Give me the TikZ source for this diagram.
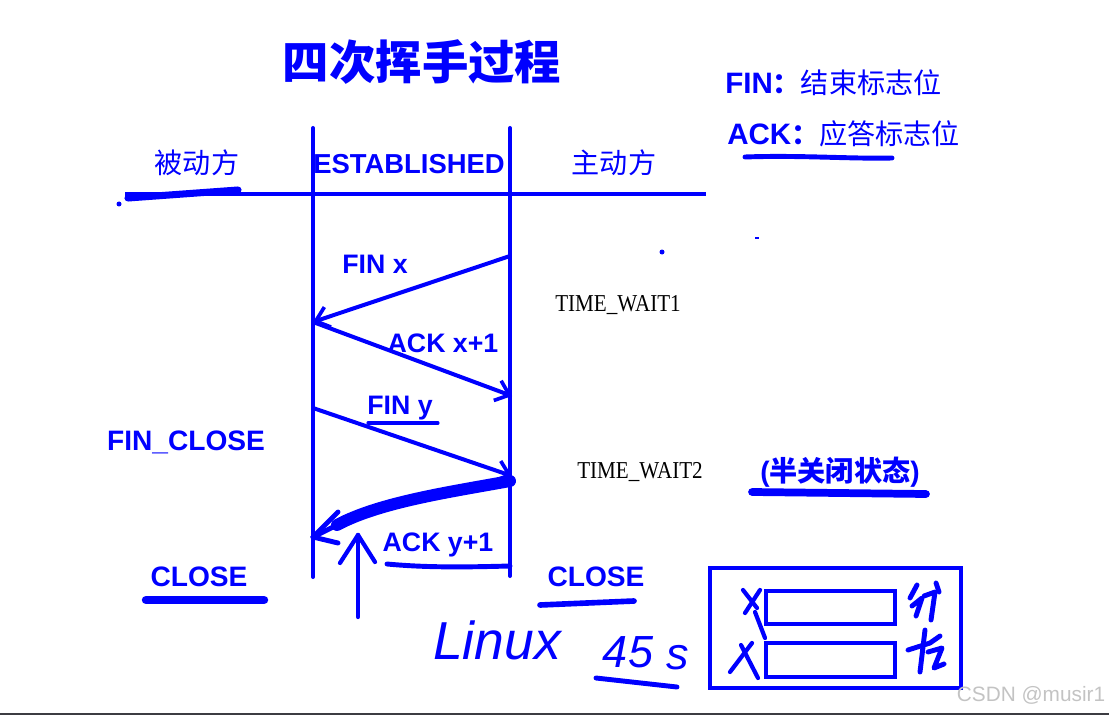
\documentclass[tikz,border=0pt]{standalone}
\usepackage{fontspec}
\setmainfont{Liberation Sans}
\newfontfamily\cjk{Noto Sans CJK SC}
\newfontfamily\typew{Liberation Serif}
\usetikzlibrary{arrows.meta}
\definecolor{penBlue}{RGB}{0,0,255}
\definecolor{markGray}{RGB}{195,195,195}
\definecolor{edgeGray}{RGB}{60,60,66}
\tikzset{
	lifeline/.style={penBlue,line width=2.85pt},
	msg/.style={penBlue,line width=2.85pt,-{Straight Barb[length=9pt,width=15pt,line width=2.6pt]}},
	pen/.style={penBlue,line width=#1,line cap=round,line join=round},
	lbl/.style={text=penBlue,font=\bfseries\fontsize{19}{19}\selectfont,inner sep=0pt},
	state/.style={text=penBlue,font=\bfseries\fontsize{20}{20}\selectfont,inner sep=0pt},
	side/.style={text=penBlue,font=\cjk\fontsize{20}{20}\selectfont,inner sep=0pt},
	wait/.style={text=black,font=\typew\fontsize{15}{15}\selectfont,inner sep=0pt},
	hand/.style={text=penBlue,font=\itshape,inner sep=0pt}
}

\begin{document}
\begin{tikzpicture}[x=0.025cm,y=-0.025cm]
		%\draw[help lines,step=100] (0,0) grid (1109,715);
		\useasboundingbox (0,0) rectangle (1109,715);

		\node[text=penBlue,font=\cjk\bfseries\fontsize{33}{33}\selectfont,inner sep=0pt] (title) at (422,62) {四次挥手过程};
		\node[anchor=west,text=penBlue,inner sep=0pt,font=\bfseries\fontsize{21}{21}\selectfont] (legFin) at (725,83) {FIN{\cjk\fontsize{20}{20}\selectfont ：\mdseries 结束标志位}};
		\node[anchor=west,text=penBlue,inner sep=0pt,font=\bfseries\fontsize{21}{21}\selectfont] (legAck) at (727,134) {ACK{\cjk\fontsize{20}{20}\selectfont ：\mdseries 应答标志位}};
		\draw[pen=3.5pt] (745,157) .. controls (800,155) and (850,159) .. (892,158);

		% header
		\node[side] (passive) at (197,163) {被动方};
		\node[side] (active) at (614,163) {主动方};
		\node[state,font=\bfseries\fontsize{19.5}{19.5}\selectfont] (estab) at (409,164) {ESTABLISHED};
		\coordinate (hL) at (125,194);
		\coordinate (hR) at (706,194);
		\draw[lifeline] (hL) -- (hR);
		\draw[pen=5pt] (128,198) -- (238,190);
		\fill[penBlue] (119,204) circle (2.5);

		% lifelines
		\coordinate (pTop) at (313,128);
		\coordinate (pBot) at (313,577);
		\coordinate (aTop) at (510,128);
		\coordinate (aBot) at (510,576);
		\draw[lifeline,line cap=round] (pTop) -- (pBot);
		\draw[lifeline,line cap=round] (aTop) -- (aBot);

		\coordinate (a1) at (510,256);
		\coordinate (p1) at (313,322);
		\coordinate (a2) at (512,396);
		\coordinate (p2) at (313,408);
		\coordinate (a3) at (512,476);
		\coordinate (a4) at (510,481);
		\coordinate (p4) at (313,537);

		\draw[msg] (a1) -- (p1);
		\draw[msg] (p1) -- (a2);
		\draw[msg] (p2) -- (a3);
		\node[lbl] (finx) at (375,264) {FIN x};
		\node[lbl] (ackx) at (443,343) {ACK x+1};
		\node[lbl] (finy) at (400,408) {FIN y};
		\draw[pen=2.2pt] (368,423) -- (438,423);

		% hand drawn last ack
		\draw[pen=8.5pt] (a4) .. controls (450,492) and (380,502) .. (337,525);
		\draw[pen=3.5pt] (337,525) -- (p4);
		\draw[pen=3.5pt] (p4) -- (338,512);
		\draw[pen=3.5pt] (p4) -- (338,543);
		\node[lbl] (acky) at (438,545) {ACK y+1};
		\draw[pen=3.5pt] (387,564) .. controls (430,568) and (470,567) .. (510,566);
		\coordinate (upBot) at (358,617);
		\coordinate (upTop) at (358,535);
		\draw[pen=3pt] (upBot) -- (upTop);
		\draw[pen=3pt] (upTop) -- (340,563);
		\draw[pen=3pt] (upTop) -- (375,562);

		% states
		\node[wait] (tw1) at (618,305) {\scalebox{1}[1.15]{TIME\_WAIT1}};
		\node[wait] (tw2) at (640,472) {\scalebox{1}[1.15]{TIME\_WAIT2}};
		\node[text=penBlue,inner sep=0pt,font=\bfseries\fontsize{20}{20}\selectfont] (half) at (840,472) {({\cjk 半关闭状态})};
		\draw[pen=5.5pt] (752,492) -- (926,494);
		\node[state] (finclose) at (186,442) {FIN\_CLOSE};
		\node[state] (closeL) at (199,577) {CLOSE};
		\draw[pen=6pt] (146,600) -- (264,600);
		\node[state] (closeR) at (596,577) {CLOSE};
		\draw[pen=4pt] (540,605) -- (634,601);
		\fill[penBlue] (662,252) circle (2.5);
		\fill[penBlue] (755,237) rectangle (759,239);

		% notes
		\node[hand,font=\itshape\fontsize{38}{38}\selectfont] (linux) at (497,640) {Linux};
		\node[hand,font=\itshape\fontsize{32}{32}\selectfont] (fortyfive) at (628,652) {45};
		\node[hand,font=\itshape\fontsize{32}{32}\selectfont] (sec) at (678,658) {s};
		\draw[pen=3.5pt] (596,678) -- (677,687);

		% box
		\draw[penBlue,line width=2.85pt] (710,568) rectangle (961,688);
		\draw[penBlue,line width=2.5pt] (766,591) rectangle (895,624);
		\draw[penBlue,line width=2.5pt] (766,643) rectangle (895,677);
		\draw[pen=3pt] (743,590) -- (757,608);
		\draw[pen=3pt] (760,590) -- (745,613);
		\draw[pen=3pt] (755,612) -- (765,638);
		\draw[pen=3pt] (752,643) -- (730,672);
		\draw[pen=3pt] (741,645) -- (758,678);
		\draw[pen=3.5pt] (917,585) -- (910,598);
		\draw[pen=3.5pt] (912,606) -- (922,598) -- (916,616);
		\draw[pen=3.5pt] (924,596) -- (935,592) -- (931,620);
		\draw[pen=3.5pt] (936,583) -- (939,592);
		\draw[pen=3.5pt] (908,650) -- (930,643) -- (940,636);
		\draw[pen=3.5pt] (925,630) -- (920,672);
		\draw[pen=3.5pt] (928,652) -- (942,648) -- (934,668) -- (944,664);

		\node[text=markGray,font=\fontsize{14.8}{14.8}\selectfont,inner sep=0pt] (mark) at (1031,695) {CSDN @musir1};
		\draw[edgeGray,line width=1.5pt] (0,714) -- (1109,714);
\end{tikzpicture}
\end{document}
